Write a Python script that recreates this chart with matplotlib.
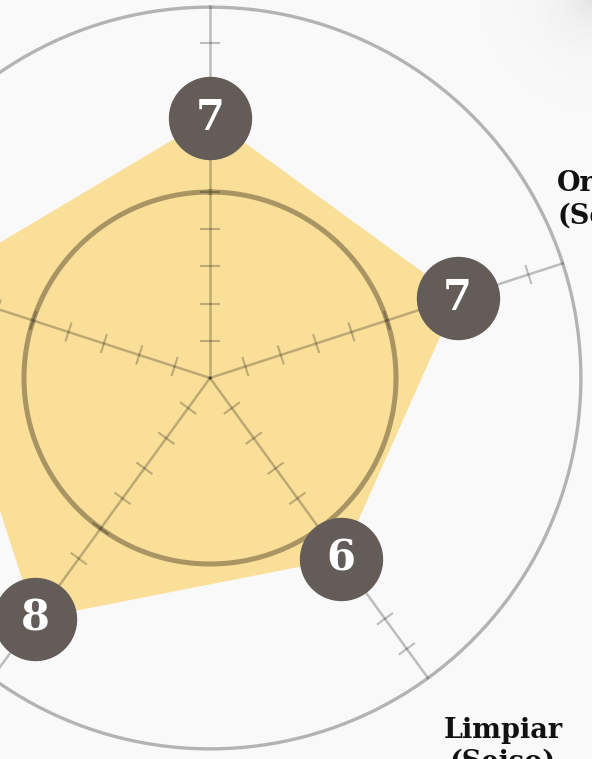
import numpy as np
import matplotlib
matplotlib.use("Agg")
import matplotlib.pyplot as plt

# ---- data ----
categories = ["Clasificar\n(Seiri)", "Ordenar\n(Seiton)", "Limpiar\n(Seiso)",
              "Estandarizar\n(Seiketsu)", "Disciplina\n(Shitsuke)"]
values = [7, 7, 6, 8, 8]
r_max = 10
inner_ring = 5
tick_values = [1, 2, 3, 4, 5, 6, 7, 8, 9]
# only these labels fall inside the cropped view
visible_labels = [1, 2]

# ---- figure ----
W, H = 592, 759
fig = plt.figure(figsize=(W / 100, H / 100), dpi=100)
fig.patch.set_facecolor("#f8f8f8")

# subtle shading in the top-right corner
bg = fig.add_axes([0, 0, 1, 1], zorder=-5)
yy, xx = np.mgrid[0:H, 0:W]
dist = np.hypot(W - xx, yy)
shade = 0.975 - 0.09 * np.exp(-dist / 30.0)
bg.imshow(shade, cmap="gray", vmin=0, vmax=1, aspect="auto", extent=[0, W, H, 0])
bg.axis("off")

cx, cy, R = 210, 378, 372  # pixel center and outer radius (chart is cropped)
ax = fig.add_axes([(cx - R) / W, (H - cy - R) / H, 2 * R / W, 2 * R / H],
                  projection="polar")
ax.set_theta_zero_location("N")
ax.set_theta_direction(-1)
ax.set_ylim(0, r_max)
ax.set_facecolor("none")
ax.grid(False)
ax.spines["polar"].set_visible(False)
ax.set_xticks([])
ax.set_yticks([])

n = len(categories)
angles = np.linspace(0, 2 * np.pi, n, endpoint=False)

# filled polygon
ang_c = np.append(angles, angles[0])
val_c = np.append(values, values[0])
ax.fill(ang_c, val_c, color="#f9df98", zorder=1, lw=0)

# outer ring and inner ring
th = np.linspace(0, 2 * np.pi, 400)
ax.plot(th, np.full_like(th, r_max - 0.03), color="black", alpha=0.28, lw=2.4,
        zorder=2, clip_on=False)
ax.plot(th, np.full_like(th, inner_ring), color="#5a4a30", alpha=0.5, lw=3.6, zorder=2)

# spokes with perpendicular ticks
d = 0.24
for a in angles:
    ax.plot([a, a], [0, r_max], color="black", alpha=0.24, lw=1.8, zorder=2)
    for k in tick_values:
        x0, y0 = k * np.sin(a), k * np.cos(a)
        px, py = np.cos(a), -np.sin(a)
        pts = [(x0 - d * px, y0 - d * py), (x0 + d * px, y0 + d * py)]
        t = [np.arctan2(p[0], p[1]) for p in pts]
        r = [np.hypot(p[0], p[1]) for p in pts]
        ax.plot(t, r, color="black", alpha=0.24, lw=1.5, zorder=2)

# value markers
ax.plot(angles, values, "o", ms=59, color="#635c58", zorder=5, clip_on=False)
for a, v in zip(angles, values):
    ax.text(a, v, str(v), color="white", fontsize=30, fontweight="bold",
            family="DejaVu Serif", ha="center", va="center", zorder=6)

# category labels (positions around the chart)
label_pos = [(0.0, 12.3), (66.5, 12.0), (141.5, 12.65), (216.0, 12.6), (288.0, 12.6)]
for i in visible_labels:
    deg, rr = label_pos[i]
    ax.text(np.deg2rad(deg), rr, categories[i], fontsize=19.5, fontweight="bold",
            family="DejaVu Serif", ha="center", va="center", color="#111111",
            linespacing=1.25)

fig.savefig("out.png", dpi=100, facecolor=fig.get_facecolor())
